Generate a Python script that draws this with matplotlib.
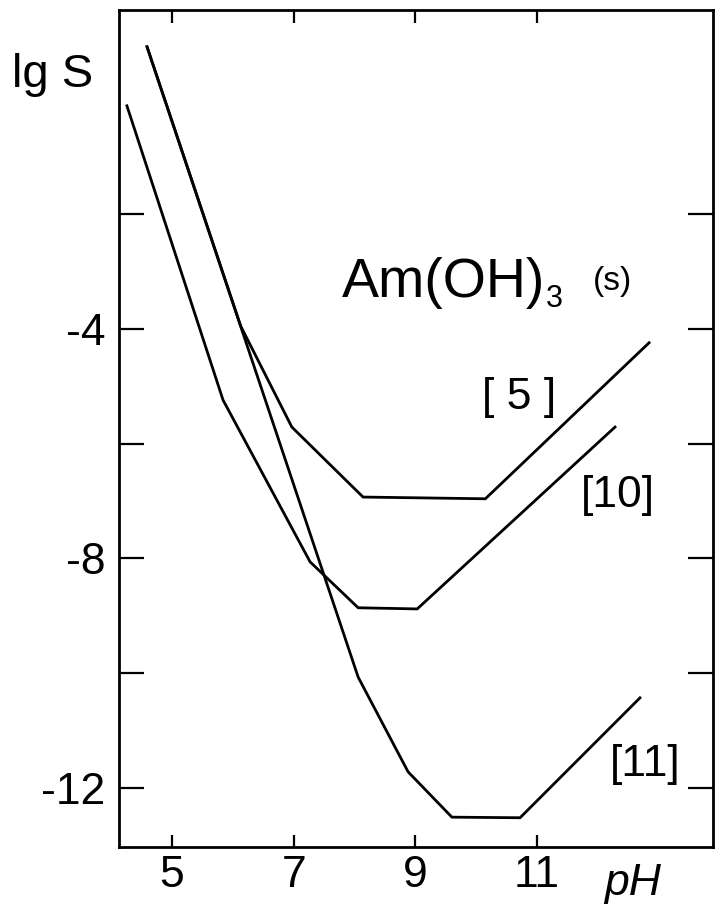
import matplotlib
matplotlib.use("Agg")
import matplotlib.pyplot as plt
from matplotlib import font_manager as fm

# ---- data ----
ph_ref5 = [4.59, 6.13, 6.97, 8.14, 10.15, 12.84]
lgs_ref5 = [0.92, -3.95, -5.71, -6.93, -6.96, -4.24]

ph_ref10 = [4.26, 5.84, 7.27, 8.06, 9.03, 12.28]
lgs_ref10 = [-0.11, -5.24, -8.06, -8.86, -8.88, -5.71]

ph_ref11 = [4.59, 8.06, 8.88, 9.60, 10.72, 12.69]
lgs_ref11 = [0.92, -10.07, -11.72, -12.51, -12.52, -10.43]

x_ticks = [5, 7, 9, 11]
x_tick_labels = ["5", "7", "9", "11"]
y_ticks = [-2, -4, -6, -8, -10, -12]
y_tick_labels = ["", "-4", "", "-8", "", "-12"]

curve_labels = ["[ 5 ]", "[10]", "[11]"]


def pick(fams):
    for f in fams:
        try:
            fm.findfont(fm.FontProperties(family=f), fallback_to_default=False)
            return f
        except Exception:
            pass
    return "DejaVu Sans"


FONT = pick(["Liberation Sans Narrow", "Liberation Sans", "DejaVu Sans"])
plt.rcParams["font.family"] = [FONT, "DejaVu Sans"]

W, H = 715, 909
fig = plt.figure(figsize=(W / 100, H / 100), dpi=100)
ax = fig.add_axes([119 / W, 1 - 847 / H, (713 - 119) / W, (847 - 10) / H])

lw = 2.0
for xs, ys in [(ph_ref5, lgs_ref5), (ph_ref10, lgs_ref10), (ph_ref11, lgs_ref11)]:
    ax.plot(xs, ys, color="black", lw=lw, solid_joinstyle="miter")

ax.set_xlim(4.13, 13.89)
ax.set_ylim(-13.03, 1.56)

for s in ax.spines.values():
    s.set_linewidth(2.0)

ax.set_xticks(x_ticks)
ax.set_xticklabels(x_tick_labels)
ax.set_yticks(y_ticks)
ax.set_yticklabels(y_tick_labels)
ax.tick_params(axis="x", which="both", direction="in", length=9, width=1.6,
               top=True, bottom=True, labelsize=32, pad=6)
ax.tick_params(axis="y", which="both", direction="in", length=18, width=1.6,
               left=True, right=True, labelsize=32, pad=10)

# curve labels
ax.text(10.70, -5.19, curve_labels[0], fontsize=32, ha="center", va="center")
ax.text(12.33, -6.91, curve_labels[1], fontsize=32, ha="center", va="center")
ax.text(12.78, -11.60, curve_labels[2], fontsize=32, ha="center", va="center")

# compound label
ax.text(7.79, -3.44, "Am(OH)", fontsize=40, ha="left", va="baseline")
ax.text(11.15, -3.62, "3", fontsize=22, ha="left", va="baseline")
ax.text(11.92, -3.32, "(s)", fontsize=24, ha="left", va="baseline")

# axis titles
fig.text(12 / W, 1 - 87 / H, "lg S", fontsize=34, ha="left", va="baseline")
fig.text(633 / W, 1 - 895 / H, "pH", fontsize=32, ha="center", va="baseline",
         style="italic")

fig.savefig("out.png", dpi=100)
